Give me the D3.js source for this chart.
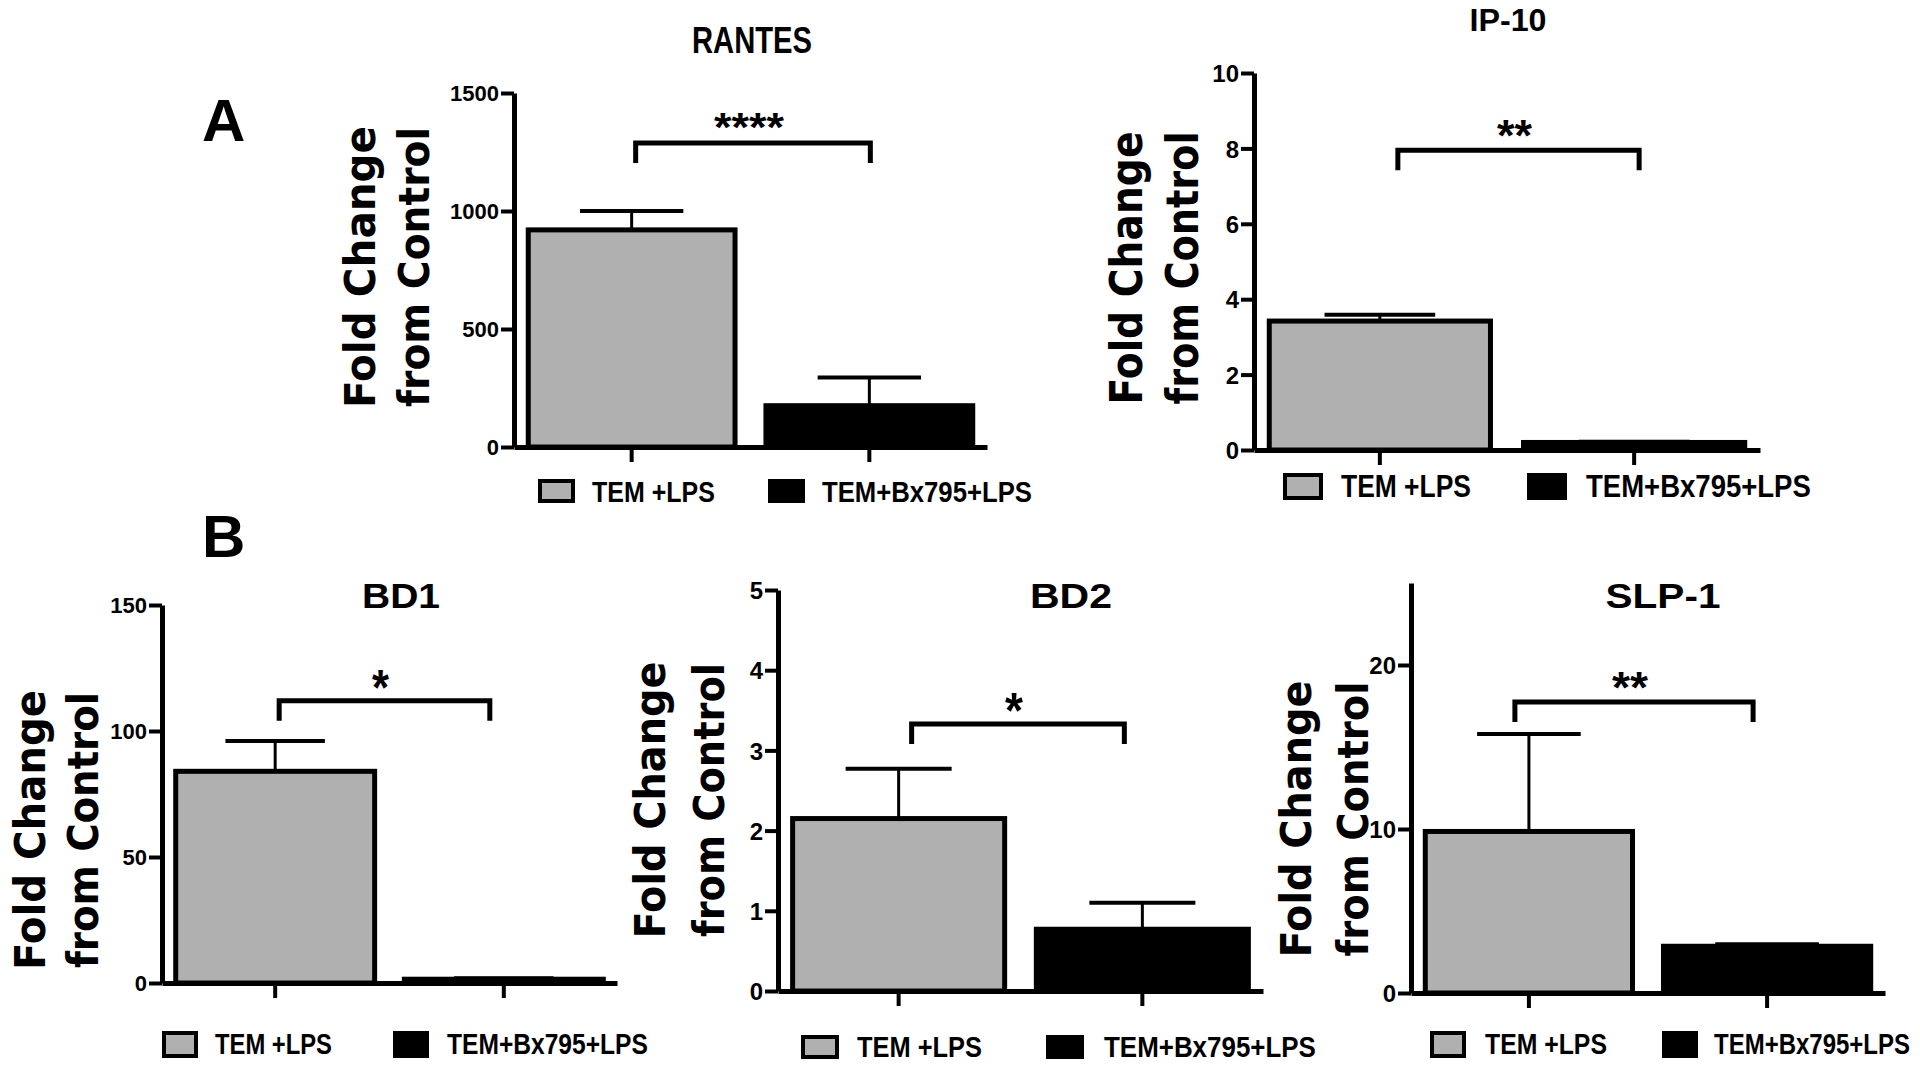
<!DOCTYPE html>
<html><head><meta charset="utf-8">
<script src="https://cdn.jsdelivr.net/npm/d3@7"></script>
<style>
html,body{margin:0;padding:0;background:#fff;}
svg{display:block;}
</style></head>
<body>
<svg id="chart" width="1920" height="1071"></svg>
<script>
// ---------------- data ----------------
const groups = ["TEM +LPS", "TEM+Bx795+LPS"];
const groupColors = ["#b0b0b0", "#000000"];
const panelTitles = ["RANTES", "IP-10", "BD1", "BD2", "SLP-1"];
const yAxisTitle = ["Fold Change", "from Control"];
const panelLetters = ["A", "B"];

const rantesMean = [920, 175];
const rantesErr  = [80, 120];
const ip10Mean   = [3.42, 0.2];
const ip10Err    = [0.17, 0.02];
const bd1Mean    = [84, 1.5];
const bd1Err     = [12, 0.4];
const bd2Mean    = [2.15, 0.77];
const bd2Err     = [0.62, 0.33];
const slp1Mean   = [9.85, 2.85];
const slp1Err    = [5.95, 0.12];

const rantesTicks = [0, 500, 1000, 1500];
const ip10Ticks   = [0, 2, 4, 6, 8, 10];
const bd1Ticks    = [0, 50, 100, 150];
const bd2Ticks    = [0, 1, 2, 3, 4, 5];
const slp1Ticks   = [0, 10, 20];
const yMax        = [1500, 10, 150, 5, 25];

const sigLabels = ["****", "**", "*", "*", "**"];
const sigLevel  = [1288, 7.95, 112, 3.33, 17.75];

const means = [rantesMean, ip10Mean, bd1Mean, bd2Mean, slp1Mean];
const errs  = [rantesErr, ip10Err, bd1Err, bd2Err, slp1Err];
const ticks = [rantesTicks, ip10Ticks, bd1Ticks, bd2Ticks, slp1Ticks];

// ---------------- layout ----------------
const layout = [
  { x0: 514, x1: 987, y0: 447, y1: 93, tickFont: 22,
    title: {cx: 752, base: 53, size: 36, len: 120},
    yt: {b1: 375, b2: 429, cy: 267, size: 43, len1: 282, len2: 280},
    br: {dl: 4, dr: 1},
    star: {size: 40, len: 70},
    leg: {sy: 479, sw: 37, sh: 24, base: 502, size: 30,
          items: [{sx: 538, tx: 592, tl: 123}, {sx: 768, tx: 822, tl: 210}]} },
  { x0: 1254, x1: 1760, y0: 450, y1: 73, tickFont: 24,
    title: {cx: 1508, base: 31, size: 31, len: 77},
    yt: {b1: 1142, b2: 1198, cy: 268, size: 44, len1: 273, len2: 273},
    br: {dl: 18, dr: 5},
    star: {size: 44, len: 35},
    leg: {sy: 473, sw: 40, sh: 27, base: 497, size: 31,
          items: [{sx: 1283, tx: 1341, tl: 130}, {sx: 1527, tx: 1586, tl: 225}]} },
  { x0: 162, x1: 617, y0: 983, y1: 605, tickFont: 22,
    title: {cx: 401, base: 608, size: 35, len: 78},
    yt: {b1: 45, b2: 98, cy: 830, size: 42, len1: 280, len2: 276},
    br: {dl: 4, dr: -14},
    star: {size: 50, len: 17},
    leg: {sy: 1031, sw: 36, sh: 27, base: 1054, size: 30,
          items: [{sx: 162, tx: 215, tl: 117}, {sx: 393, tx: 447, tl: 201}]} },
  { x0: 778, x1: 1263, y0: 991, y1: 590, tickFont: 24,
    title: {cx: 1071, base: 608, size: 35, len: 82},
    yt: {b1: 665, b2: 724, cy: 800, size: 42, len1: 277, len2: 274},
    br: {dl: 13, dr: -18},
    star: {size: 50, len: 18},
    leg: {sy: 1035, sw: 38, sh: 24, base: 1057, size: 30,
          items: [{sx: 801, tx: 857, tl: 125}, {sx: 1046, tx: 1104, tl: 212}]} },
  { x0: 1411, x1: 1885, y0: 993, y1: 583, tickFont: 24,
    title: {cx: 1663, base: 608, size: 35, len: 115},
    yt: {b1: 1311, b2: 1368, cy: 819, size: 42, len1: 277, len2: 275},
    br: {dl: -14, dr: -14},
    star: {size: 44, len: 36},
    leg: {sy: 1031, sw: 36, sh: 27, base: 1054, size: 30,
          items: [{sx: 1430, tx: 1485, tl: 122}, {sx: 1662, tx: 1714, tl: 196}]} }
];
const letterPos = [{x: 202, base: 141}, {x: 202, base: 557}];

const ARIAL = "'Liberation Sans', Arial, Helvetica, sans-serif";
const WIDE = "'DejaVu Sans', Verdana, sans-serif";

const svg = d3.select("#chart");
svg.append("rect").attr("width", 1920).attr("height", 1071).attr("fill", "#fff");

const color = d3.scaleOrdinal().domain(groups).range(groupColors);

panelTitles.forEach((name, i) => {
  const L = layout[i];
  const g = svg.append("g");
  const x = d3.scaleBand().domain(groups).range([L.x0, L.x1])
              .paddingInner(0.13).paddingOuter(0.06);
  const y = d3.scaleLinear().domain([0, yMax[i]]).range([L.y0, L.y1]);
  const bw = x.bandwidth();
  const data = groups.map((gr, k) => ({group: gr, mean: means[i][k], err: errs[i][k]}));

  // error bars
  const eb = g.append("g");
  eb.selectAll("line.v").data(data).join("line")
    .attr("x1", d => x(d.group) + bw / 2).attr("x2", d => x(d.group) + bw / 2)
    .attr("y1", d => y(d.mean)).attr("y2", d => y(d.mean + d.err))
    .attr("stroke", "#000").attr("stroke-width", 3);
  eb.selectAll("line.c").data(data).join("line")
    .attr("x1", d => x(d.group) + bw / 4).attr("x2", d => x(d.group) + 3 * bw / 4)
    .attr("y1", d => y(d.mean + d.err)).attr("y2", d => y(d.mean + d.err))
    .attr("stroke", "#000").attr("stroke-width", 4);

  // bars
  g.append("g").selectAll("rect").data(data).join("rect")
    .attr("x", d => x(d.group)).attr("width", bw)
    .attr("y", d => y(d.mean)).attr("height", d => y(0) - y(d.mean))
    .attr("fill", d => color(d.group))
    .attr("stroke", "#000").attr("stroke-width", 5);

  // y axis
  const ya = g.append("g").attr("transform", `translate(${L.x0},0)`)
    .call(d3.axisLeft(y).tickValues(ticks[i]).tickFormat(d3.format("d"))
          .tickSize(13).tickSizeOuter(0).tickPadding(2));
  ya.select(".domain").attr("stroke", "#000").attr("stroke-width", 5);
  ya.selectAll(".tick line").attr("stroke", "#000").attr("stroke-width", 4);
  ya.selectAll(".tick text").attr("font-family", ARIAL).attr("font-weight", "bold")
    .attr("font-size", L.tickFont).attr("fill", "#000").attr("dy", "0.36em");

  // x axis
  const xa = g.append("g").attr("transform", `translate(0,${L.y0})`)
    .call(d3.axisBottom(x).tickSize(15).tickSizeOuter(0).tickFormat(""));
  xa.select(".domain").attr("stroke", "#000").attr("stroke-width", 5);
  xa.selectAll(".tick line").attr("stroke", "#000").attr("stroke-width", 4);

  // title
  g.append("text").text(name)
    .attr("x", L.title.cx).attr("y", L.title.base)
    .attr("text-anchor", "middle")
    .attr("font-family", ARIAL).attr("font-weight", "bold")
    .attr("font-size", L.title.size)
    .attr("textLength", L.title.len).attr("lengthAdjust", "spacingAndGlyphs");

  // y axis title (two lines)
  [L.yt.b1, L.yt.b2].forEach((b, k) => {
    g.append("text").text(yAxisTitle[k])
      .attr("transform", `translate(${b},${L.yt.cy}) rotate(-90)`)
      .attr("text-anchor", "middle")
      .attr("font-family", WIDE).attr("font-weight", "bold")
      .attr("font-size", L.yt.size)
      .attr("textLength", k === 0 ? L.yt.len1 : L.yt.len2)
      .attr("lengthAdjust", "spacingAndGlyphs");
  });

  // significance bracket
  const bx1 = x(groups[0]) + bw / 2 + L.br.dl, bx2 = x(groups[1]) + bw / 2 + L.br.dr;
  const by = y(sigLevel[i]);
  g.append("path")
    .attr("d", `M${bx1},${by + 20} V${by} H${bx2} V${by + 20}`)
    .attr("fill", "none").attr("stroke", "#000").attr("stroke-width", 5);
  g.append("text").text(sigLabels[i])
    .attr("x", (bx1 + bx2) / 2 - 4).attr("y", by - 24 + 0.56 * L.star.size)
    .attr("text-anchor", "middle")
    .attr("font-family", ARIAL).attr("font-weight", "bold")
    .attr("font-size", L.star.size)
    .attr("textLength", L.star.len).attr("lengthAdjust", "spacingAndGlyphs");

  // legend (text compressed horizontally with a scale transform)
  const lg = g.append("g");
  groups.forEach((gr, k) => {
    const it = L.leg.items[k];
    lg.append("rect")
      .attr("x", it.sx + 2).attr("y", L.leg.sy + 2)
      .attr("width", L.leg.sw - 4).attr("height", L.leg.sh - 4)
      .attr("fill", color(gr)).attr("stroke", "#000").attr("stroke-width", 4);
    const t = lg.append("text").text(gr)
      .attr("x", 0).attr("y", 0)
      .attr("font-family", ARIAL).attr("font-weight", "bold")
      .attr("font-size", L.leg.size);
    const w = t.node().getComputedTextLength() || it.tl;
    t.attr("transform", `translate(${it.tx},${L.leg.base}) scale(${it.tl / w},1)`);
  });
});

// panel letters
panelLetters.forEach((t, i) => {
  svg.append("text").text(t)
    .attr("x", letterPos[i].x).attr("y", letterPos[i].base)
    .attr("font-family", ARIAL).attr("font-weight", "bold")
    .attr("font-size", 60);
});
</script>
</body></html>
